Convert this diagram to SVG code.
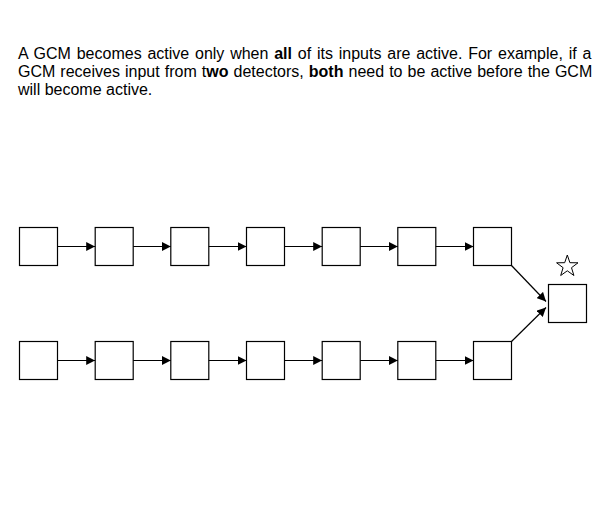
<svg xmlns="http://www.w3.org/2000/svg" width="605" height="530" viewBox="0 0 605 530">
<style>
.t{font-family:"Liberation Sans",Arial,sans-serif;font-size:16px;fill:#000}
.b{font-weight:bold}
.n{fill:#fff;stroke:#000;stroke-width:1.2}
.c{stroke:#000;stroke-width:1.2;fill:none}
</style>
<defs>
<marker id="ah" markerWidth="9" markerHeight="9" refX="9" refY="4.5" orient="auto" markerUnits="userSpaceOnUse">
<path d="M0,0 L9,4.5 L0,9 Z" fill="#000"/>
</marker>
</defs>
<rect width="605" height="530" fill="#fff"/>
<g id="caption">
<text class="t" x="18" y="59" word-spacing="1.35">A GCM becomes active only when <tspan class="b">all</tspan> of its inputs are active. For example, if a</text>
<text class="t" x="18" y="77" word-spacing="0.6">GCM receives input from t<tspan class="b">wo</tspan> detectors, <tspan class="b">both</tspan> need to be active before the GCM</text>
<text class="t" x="18" y="95">will become active.</text>
</g>
<g id="top-row">
<rect id="t1" class="n" x="19.5" y="227.5" width="38" height="38"/>
<rect id="t2" class="n" x="95.2" y="227.5" width="38" height="38"/>
<rect id="t3" class="n" x="170.8" y="227.5" width="38" height="38"/>
<rect id="t4" class="n" x="246.5" y="227.5" width="38" height="38"/>
<rect id="t5" class="n" x="322.2" y="227.5" width="38" height="38"/>
<rect id="t6" class="n" x="397.8" y="227.5" width="38" height="38"/>
<rect id="t7" class="n" x="473.5" y="227.5" width="38" height="38"/>
</g>
<g id="bottom-row">
<rect id="b1" class="n" x="19.5" y="341.5" width="38" height="38"/>
<rect id="b2" class="n" x="95.2" y="341.5" width="38" height="38"/>
<rect id="b3" class="n" x="170.8" y="341.5" width="38" height="38"/>
<rect id="b4" class="n" x="246.5" y="341.5" width="38" height="38"/>
<rect id="b5" class="n" x="322.2" y="341.5" width="38" height="38"/>
<rect id="b6" class="n" x="397.8" y="341.5" width="38" height="38"/>
<rect id="b7" class="n" x="473.5" y="341.5" width="38" height="38"/>
</g>
<g id="gcm">
<rect class="n" x="548.5" y="284.5" width="38" height="38"/>
<path d="M567.3,255 L569.9,262.7 L578,262.8 L571.5,267.7 L573.9,275.5 L567.3,270.8 L560.7,275.5 L563.1,267.7 L556.6,262.8 L564.7,262.7 Z" fill="#fff" stroke="#000" stroke-width="1"/>
</g>
<g id="connectors">
<line class="c" x1="57.5" y1="246.5" x2="95.2" y2="246.5" marker-end="url(#ah)"/>
<line class="c" x1="133.2" y1="246.5" x2="170.8" y2="246.5" marker-end="url(#ah)"/>
<line class="c" x1="208.8" y1="246.5" x2="246.5" y2="246.5" marker-end="url(#ah)"/>
<line class="c" x1="284.5" y1="246.5" x2="322.2" y2="246.5" marker-end="url(#ah)"/>
<line class="c" x1="360.2" y1="246.5" x2="397.8" y2="246.5" marker-end="url(#ah)"/>
<line class="c" x1="435.8" y1="246.5" x2="473.5" y2="246.5" marker-end="url(#ah)"/>
<line class="c" x1="57.5" y1="360.5" x2="95.2" y2="360.5" marker-end="url(#ah)"/>
<line class="c" x1="133.2" y1="360.5" x2="170.8" y2="360.5" marker-end="url(#ah)"/>
<line class="c" x1="208.8" y1="360.5" x2="246.5" y2="360.5" marker-end="url(#ah)"/>
<line class="c" x1="284.5" y1="360.5" x2="322.2" y2="360.5" marker-end="url(#ah)"/>
<line class="c" x1="360.2" y1="360.5" x2="397.8" y2="360.5" marker-end="url(#ah)"/>
<line class="c" x1="435.8" y1="360.5" x2="473.5" y2="360.5" marker-end="url(#ah)"/>
<line class="c" x1="511.5" y1="265.5" x2="546" y2="301.5" marker-end="url(#ah)"/>
<line class="c" x1="511.5" y1="341.5" x2="546" y2="307.5" marker-end="url(#ah)"/>
</g>
</svg>
